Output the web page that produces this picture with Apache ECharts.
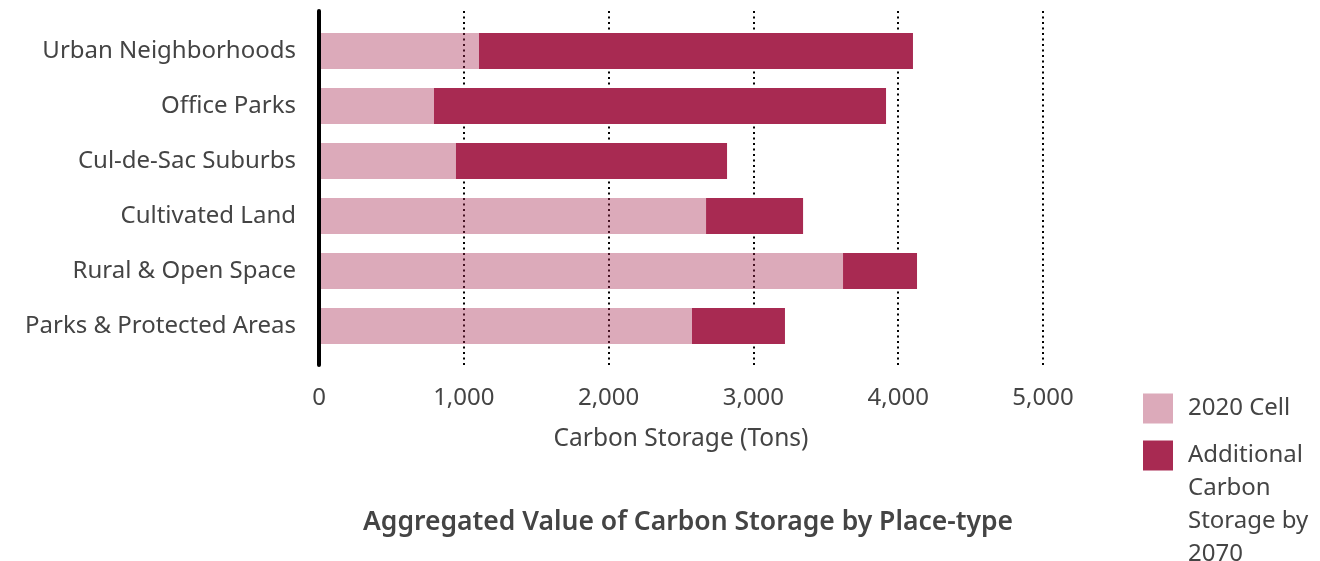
<!DOCTYPE html>
<html><head><meta charset="utf-8">
<script src="https://cdn.jsdelivr.net/npm/echarts@6/dist/echarts.min.js"></script>
<style>html,body{margin:0;padding:0;background:#fff}#c{width:1320px;height:561px}</style>
</head><body><div id="c"></div>
<script>
const categories = ['Urban Neighborhoods','Office Parks','Cul-de-Sac Suburbs','Cultivated Land','Rural & Open Space','Parks & Protected Areas'];
const cell2020 = [1105, 794, 946, 2673, 3619, 2576];
const additional2070 = [2997, 3122, 1872, 670, 511, 642];
const seriesNames = ['2020 Cell', 'Additional\nCarbon\nStorage by\n2070'];
const xTicks = {min: 0, max: 5000, interval: 1000};

const FONT = 'Noto Sans';
const TXT = '#444444';
const CRIMSON = '#A82A52';
const PINK = 'rgba(168,42,82,0.4)';

const richT = {t: {fontFamily: FONT, fontSize: 24, color: TXT, lineHeight: 33, padding: [0, 0, 0, 10]}};
const wrapLines = name => name.split('\n').map(s => '{t|' + s + '}').join('\n');

const chart = echarts.init(document.getElementById('c'));
chart.setOption({
  animation: false,
  textStyle: {fontFamily: FONT},
  title: {text: 'Aggregated Value of Carbon Storage by Place-type', left: 363, top: 509, padding: 0,
    textStyle: {fontFamily: FONT, fontSize: 26.5, fontWeight: 600, color: TXT}},
  legend: [
    {data: [seriesNames[0]], left: 1143, top: 392, padding: 0, itemWidth: 30, itemHeight: 30, icon: 'rect',
      formatter: wrapLines,
      textStyle: {fontFamily: FONT, fontSize: 24, color: TXT, lineHeight: 33, rich: richT}},
    {data: [seriesNames[1]], left: 1143, top: 340, padding: 0, itemWidth: 30, itemHeight: 30, icon: 'rect',
      formatter: name => '\n\n\n' + wrapLines(name),
      textStyle: {fontFamily: FONT, fontSize: 24, color: TXT, lineHeight: 33, rich: richT}}
  ],
  grid: [
    {left: 319, width: 724, top: 23.5, height: 330},
    {left: 319, width: 724, top: 11, height: 354}
  ],
  xAxis: [
    {gridIndex: 0, type: 'value', min: xTicks.min, max: xTicks.max, interval: xTicks.interval, show: false},
    {gridIndex: 1, type: 'value', min: xTicks.min, max: xTicks.max, interval: xTicks.interval,
      axisLine: {show: false}, axisTick: {show: false},
      splitLine: {show: true, lineStyle: {color: '#000', width: 2, type: [2, 3.5]}},
      axisLabel: {fontFamily: FONT, fontSize: 24, color: TXT, margin: 21,
        formatter: v => v.toLocaleString('en-US')},
      name: 'Carbon Storage (Tons)', nameLocation: 'middle', nameGap: 62,
      nameTextStyle: {fontFamily: FONT, fontSize: 24.5, color: TXT}}
  ],
  yAxis: [
    {gridIndex: 0, type: 'category', data: categories, inverse: true,
      axisLine: {show: false}, axisTick: {show: false}, splitLine: {show: false},
      axisLabel: {fontFamily: FONT, fontSize: 24, color: TXT, margin: 23}},
    {gridIndex: 1, type: 'value', z: 10, axisLine: {show: true, lineStyle: {color: '#000', width: 4}},
      axisLabel: {show: false}, axisTick: {show: false}, splitLine: {show: false}}
  ],
  series: [
    {name: seriesNames[0], type: 'bar', stack: 'total', xAxisIndex: 0, yAxisIndex: 0,
      barWidth: 36, itemStyle: {color: PINK}, data: cell2020},
    {name: seriesNames[1], type: 'bar', stack: 'total', xAxisIndex: 0, yAxisIndex: 0,
      barWidth: 36, itemStyle: {color: CRIMSON}, data: additional2070}
  ]
});
</script></body></html>
